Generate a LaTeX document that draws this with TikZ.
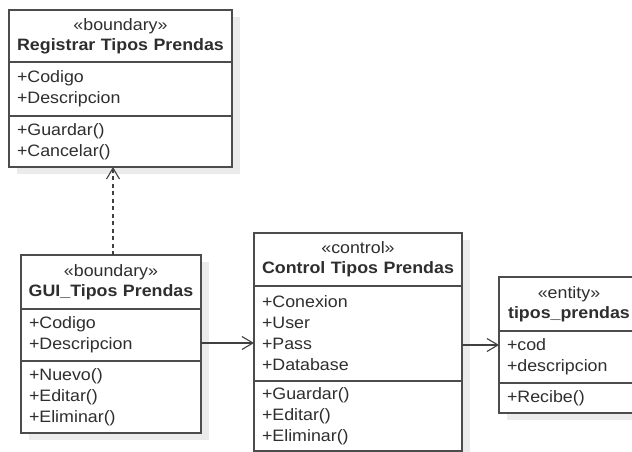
\documentclass[tikz,border=0pt]{standalone}
\usepackage{fontspec}
\setmainfont{Liberation Sans}[FakeStretch=1.08]
\usetikzlibrary{positioning,shadows,arrows.meta}
\tikzset{
  cls/.style={draw=black!70,line width=1.3pt,fill=white,outer sep=0pt,inner ysep=2pt,
    text=black!82,drop shadow={shadow xshift=8pt,shadow yshift=-7pt,fill=black!8,opacity=1}},
  hdr/.style={cls,align=center,inner xsep=4pt,text width=#1,font=\fontsize{16.5}{20}\selectfont},
  cmp/.style={cls,align=left,inner xsep=8pt,text width=#1,font=\fontsize{16.5}{21}\selectfont},
  link/.style={draw=black!75,line width=1.1pt,-{Straight Barb[length=11pt,width=13pt]}},
}
\begin{document}
\begin{tikzpicture}[x=1pt,y=-1pt]
\useasboundingbox (0,0) rectangle (632,452);
\clip (0,0) rectangle (632,452);
% Registrar Tipos Prendas
\node[hdr=215,minimum height=52,anchor=north west] (regH) at (9,10) {«boundary»\\\textbf{Registrar Tipos Prendas}};
\node[cmp=207,minimum height=54,below=0pt of regH] (regA) {+Codigo\\+Descripcion};
\node[cmp=207,minimum height=51,below=0pt of regA] (regM) {+Guardar()\\+Cancelar()};
% GUI_Tipos Prendas
\node[hdr=172,minimum height=54,anchor=north west] (guiH) at (21,255) {«boundary»\\\textbf{GUI\_Tipos Prendas}};
\node[cmp=164,minimum height=52,below=0pt of guiH] (guiA) {+Codigo\\+Descripcion};
\node[cmp=164,minimum height=72,below=0pt of guiA] (guiM) {+Nuevo()\\+Editar()\\+Eliminar()};
% Control Tipos Prendas
\node[hdr=200,minimum height=53,anchor=north west] (ctlH) at (254,233) {«control»\\\textbf{Control Tipos Prendas}};
\node[cmp=192,minimum height=95,below=0pt of ctlH] (ctlA) {+Conexion\\+User\\+Pass\\+Database};
\node[cmp=192,minimum height=70,below=0pt of ctlA] (ctlM) {+Guardar()\\+Editar()\\+Eliminar()};
% tipos_prendas
\node[hdr=132,minimum height=54,anchor=north west] (entH) at (499,277) {«entity»\\\textbf{tipos\_prendas}};
\node[cmp=124,minimum height=52,below=0pt of entH] (entA) {+cod\\+descripcion};
\node[cmp=124,minimum height=30,below=0pt of entA] (entM) {+Recibe()};
% links
\draw[link,dash pattern=on 4pt off 3.5pt] ([xshift=2]guiH.north) -- ([xshift=2]guiH.north |- regM.south);
\draw[link] ([yshift=-8]guiA.east) -- ([yshift=-8]guiA.east -| ctlA.west);
\draw[link] ([yshift=-11.5]ctlA.east) -- ([yshift=-11.5]ctlA.east -| entA.west);
\end{tikzpicture}
\end{document}
